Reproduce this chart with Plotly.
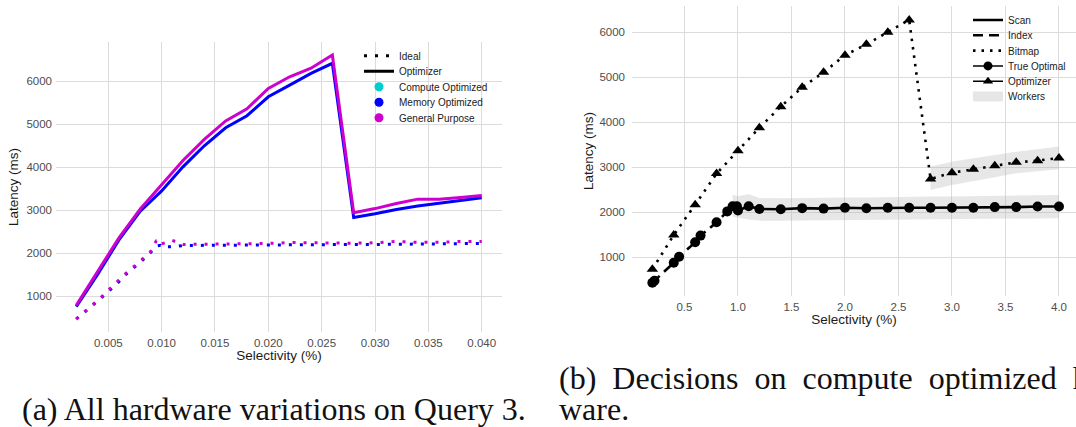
import plotly.graph_objects as go

W, H = 1076, 427

# ---------------- (a) all hardware variations, Query 3 ----------------
sel_opt = [0.002, 0.004, 0.006, 0.008, 0.010, 0.012, 0.014, 0.016, 0.018, 0.020,
           0.022, 0.024, 0.026, 0.028, 0.030, 0.032, 0.034, 0.036, 0.038, 0.040]
gp_optimizer = [790, 1560, 2360, 3030, 3600, 4160, 4650, 5080, 5360, 5835,
                6105, 6305, 6610, 2945, 3040, 3160, 3260, 3260, 3300, 3345]
mem_optimizer = [760, 1510, 2310, 2980, 3450, 4010, 4500, 4920, 5200, 5640,
                 5912, 6185, 6419, 2835, 2920, 3020, 3100, 3165, 3225, 3290]

sel_ideal = [0.002, 0.0022, 0.004, 0.0045, 0.006, 0.0065, 0.008, 0.009, 0.0095, 0.0099,
             0.010, 0.011, 0.012, 0.014, 0.016, 0.018, 0.020, 0.022, 0.024, 0.026,
             0.028, 0.030, 0.032, 0.034, 0.036, 0.038, 0.040]
gp_ideal = [470, 520, 900, 1020, 1370, 1500, 1820, 2050, 2290, 2305,
            2220, 2300, 2205, 2210, 2215, 2220, 2230, 2250, 2240, 2235,
            2235, 2245, 2275, 2255, 2255, 2275, 2275]
mem_ideal = [470, 510, 890, 1000, 1340, 1480, 1790, 2030, 2170, 2185,
             2150, 2150, 2180, 2185, 2190, 2190, 2195, 2200, 2200, 2200,
             2205, 2205, 2210, 2215, 2215, 2225, 2230]

a_xticks = [0.005, 0.010, 0.015, 0.020, 0.025, 0.030, 0.035, 0.040]
a_yticks = [1000, 2000, 3000, 4000, 5000, 6000]

# ---------------- (b) decisions on compute optimized hardware ----------------
true_sel = [0.2, 0.22, 0.4, 0.45, 0.6, 0.65, 0.8, 0.9, 0.95, 0.99,
            1.0, 1.1, 1.2, 1.4, 1.6, 1.8, 2.0, 2.2, 2.4, 2.6,
            2.8, 3.0, 3.2, 3.4, 3.6, 3.8, 4.0]
true_latency = [435, 478, 880, 1013, 1333, 1482, 1777, 2020, 2135, 2135,
                2040, 2135, 2073, 2068, 2092, 2082, 2102, 2090, 2102, 2102,
                2100, 2102, 2102, 2115, 2115, 2128, 2128]
true_plan = ["Index"] * 9 + ["Scan"] * 18

opt_sel = [0.2, 0.4, 0.6, 0.8, 1.0, 1.2, 1.4, 1.6, 1.8, 2.0,
           2.2, 2.4, 2.6, 2.8, 3.0, 3.2, 3.4, 3.6, 3.8, 4.0]
opt_latency = [735, 1495, 2170, 2860, 3370, 3880, 4348, 4778, 5110, 5490,
               5733, 6000, 6275, 2740, 2880, 2955, 3035, 3110, 3148, 3207]
opt_plan = ["Bitmap"] * 20

scan_workers_sel = [0.95, 1.0, 1.1, 1.2, 1.4, 1.6, 1.8, 2.0, 2.2, 2.4,
                    2.6, 2.8, 3.0, 3.2, 3.4, 3.6, 3.8, 4.0]
scan_workers_hi = [2390, 2360, 2400, 2320, 2310, 2320, 2320, 2330, 2330, 2340,
                   2340, 2350, 2350, 2360, 2370, 2370, 2380, 2385]
scan_workers_lo = [1900, 1880, 1840, 1815, 1810, 1815, 1820, 1825, 1830, 1835,
                   1840, 1845, 1850, 1855, 1858, 1862, 1865, 1868]

bitmap_workers_sel = [2.8, 3.0, 3.2, 3.4, 3.6, 3.8, 4.0]
bitmap_workers_hi = [3015, 3125, 3200, 3275, 3345, 3400, 3460]
bitmap_workers_lo = [2495, 2605, 2695, 2778, 2865, 2918, 2956]

b_xticks = [0.5, 1.0, 1.5, 2.0, 2.5, 3.0, 3.5, 4.0]
b_yticks = [1000, 2000, 3000, 4000, 5000, 6000]

# ---------------- styling ----------------
SANS = "Liberation Sans, Arial, sans-serif"
SERIF = "Liberation Serif, Times New Roman, serif"
GRID = "#dcdcdc"
TICK_FONT = dict(family=SANS, size=11.5, color="#4d4d4d")
TITLE_FONT = dict(family=SANS, size=13.5, color="#1a1a1a")
LEG_FONT = dict(family=SANS, size=10, color="#1a1a1a")
CYAN, BLUE, MAGENTA = "#00CDCD", "#0000FF", "#CD00CD"
DOT_A = "3px,8px"
DOT_B = "2.5px,6px"
DASH_B = "10px,6px"
PLAN_DASH = {"Scan": "solid", "Index": DASH_B, "Bitmap": DOT_B}

fig = go.Figure()

# panel (a): ideal (dotted) and optimizer (solid) for each hardware type
for sel, vals, col in [(sel_ideal, mem_ideal, BLUE), (sel_ideal, gp_ideal, MAGENTA)]:
    fig.add_trace(go.Scatter(x=sel, y=vals, mode="lines", showlegend=False,
                             line=dict(color=col, width=3, dash=DOT_A),
                             xaxis="x", yaxis="y"))
for vals, col in [(mem_optimizer, BLUE), (gp_optimizer, MAGENTA)]:
    fig.add_trace(go.Scatter(x=sel_opt, y=vals, mode="lines", showlegend=False,
                             line=dict(color=col, width=3),
                             xaxis="x", yaxis="y"))

# panel (b): worker ribbons
for xs, hi, lo in [(scan_workers_sel, scan_workers_hi, scan_workers_lo),
                   (bitmap_workers_sel, bitmap_workers_hi, bitmap_workers_lo)]:
    fig.add_trace(go.Scatter(x=xs + xs[::-1], y=hi + lo[::-1], mode="lines",
                             fill="toself", fillcolor="rgba(175,175,175,0.3)",
                             line=dict(width=0), hoverinfo="skip", showlegend=False,
                             xaxis="x2", yaxis="y2"))


def plan_segments(xs, ys, plans):
    """Split a path into runs of equal plan; each run ends at the next point."""
    segs, start = [], 0
    for i in range(1, len(xs) + 1):
        if i == len(xs) or plans[i] != plans[start]:
            end = min(i + 1, len(xs))
            segs.append((plans[start], xs[start:end], ys[start:end]))
            start = i
    return segs


for plan, xs, ys in plan_segments(true_sel, true_latency, true_plan):
    fig.add_trace(go.Scatter(x=xs, y=ys, mode="lines", showlegend=False,
                             line=dict(color="black", width=2.6, dash=PLAN_DASH[plan]),
                             xaxis="x2", yaxis="y2"))
for plan, xs, ys in plan_segments(opt_sel, opt_latency, opt_plan):
    fig.add_trace(go.Scatter(x=xs, y=ys, mode="lines", showlegend=False,
                             line=dict(color="black", width=2.6, dash=PLAN_DASH[plan]),
                             xaxis="x2", yaxis="y2"))
fig.add_trace(go.Scatter(x=true_sel, y=true_latency, mode="markers", showlegend=False,
                         marker=dict(symbol="circle", size=10, color="black"),
                         xaxis="x2", yaxis="y2"))
fig.add_trace(go.Scatter(x=opt_sel, y=opt_latency, mode="markers", showlegend=False,
                         marker=dict(symbol="triangle-up", size=10, color="black"),
                         xaxis="x2", yaxis="y2"))

# ---------------- legends: one small legend per key row ----------------
legend_rows_a = [
    ("Ideal", dict(mode="lines", line=dict(color="black", width=3, dash=DOT_A))),
    ("Optimizer", dict(mode="lines", line=dict(color="black", width=3))),
    ("Compute Optimized", dict(mode="markers", marker=dict(color=CYAN, size=9))),
    ("Memory Optimized", dict(mode="markers", marker=dict(color=BLUE, size=9))),
    ("General Purpose", dict(mode="markers", marker=dict(color=MAGENTA, size=9))),
]
legend_rows_b = [
    ("Scan", dict(mode="lines", line=dict(color="black", width=2.6))),
    ("Index", dict(mode="lines", line=dict(color="black", width=2.6, dash=DASH_B))),
    ("Bitmap", dict(mode="lines", line=dict(color="black", width=2.6, dash=DOT_B))),
    ("True Optimal", dict(mode="lines+markers", line=dict(color="black", width=1.5),
                          marker=dict(symbol="circle", size=9, color="black"))),
    ("Optimizer", dict(mode="lines+markers", line=dict(color="black", width=1.5),
                       marker=dict(symbol="triangle-up", size=9, color="black"))),
    ("Workers", dict(mode="lines", line=dict(color="#e6e6e6", width=10))),
]

legend_layout = {}
k = 1
for rows, left_px, top_px, step_px in [(legend_rows_a, 359, 55.7, 15.5),
                                       (legend_rows_b, 968, 20.0, 15.3)]:
    for i, (name, style) in enumerate(rows):
        lname = "legend" if k == 1 else f"legend{k}"
        fig.add_trace(go.Scatter(x=[None], y=[None], name=name, legend=lname,
                                 showlegend=True, xaxis="x", yaxis="y", **style))
        legend_layout[lname] = dict(
            x=left_px / W, y=1 - (top_px + i * step_px) / H,
            xanchor="left", yanchor="middle",
            bgcolor="rgba(0,0,0,0)", borderwidth=0, font=LEG_FONT,
        )
        k += 1

# ---------------- captions ----------------
# the first line of (b) is set justified, so its word gaps are widened
GAP = "\u00a0\u00a0"
captions = [
    ("(a) All hardware variations on Query 3.", 20, 409),
    (GAP.join(["(b)", "Decisions", "on", "compute", "optimized", "hard-"]), 557, 378),
    ("ware.", 557, 409),
]
annotations = [dict(text=t, x=xp / W, y=1 - yp / H, xref="paper", yref="paper",
                    xanchor="left", yanchor="middle", showarrow=False,
                    font=dict(family=SERIF, size=32, color="#111111"))
               for t, xp, yp in captions]


def axis(domain, rng, ticks, fmt, title, standoff):
    return dict(domain=domain, range=rng, tickvals=ticks,
                ticktext=[fmt.format(v) for v in ticks],
                showgrid=True, gridcolor=GRID, gridwidth=1, zeroline=False,
                showline=False, ticks="", tickfont=TICK_FONT,
                title=dict(text=title, font=TITLE_FONT, standoff=standoff),
                automargin=False)


fig.update_layout(
    width=W, height=H, margin=dict(l=0, r=0, t=0, b=0),
    paper_bgcolor="white", plot_bgcolor="white",
    xaxis=dict(axis([56 / W, 502 / W], [0.0001, 0.0419], a_xticks, "{:.3f}",
                    "Selectivity (%)", 2), anchor="y", ticklabelstandoff=2),
    yaxis=dict(axis([(H - 332) / H, (H - 42) / H], [170, 6914], a_yticks, "{:.0f}",
                    "Latency (ms)", 4), anchor="x", ticklabelstandoff=3),
    xaxis2=dict(axis([632 / W, 1.0], [0.0097, 4.159], b_xticks, "{:.1f}",
                     "Selectivity (%)", 2), anchor="y2", ticklabelstandoff=2),
    yaxis2=dict(axis([(H - 296) / H, (H - 6) / H], [140, 6584], b_yticks, "{:.0f}",
                     "Latency (ms)", 2), anchor="x2", ticklabelstandoff=6),
    annotations=annotations,
    **legend_layout,
)

fig.write_html("out.html")
